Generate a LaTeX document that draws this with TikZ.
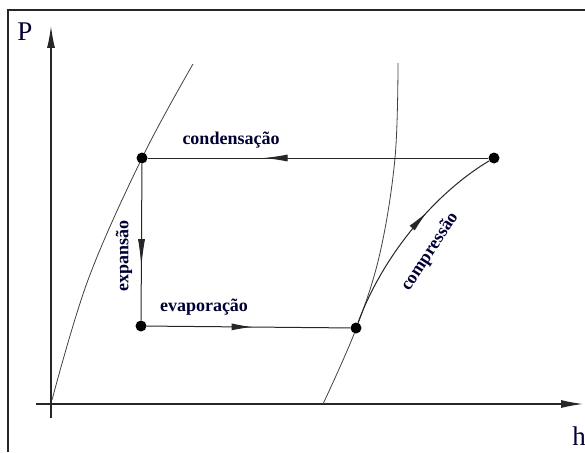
\documentclass[tikz,border=0pt]{standalone}
\usepackage{fontspec}
\setmainfont{Liberation Serif}
\usetikzlibrary{arrows.meta,decorations.markings}
\begin{document}
\begin{tikzpicture}[x=1pt,y=-1pt,
  dot/.style={circle,fill=black,inner sep=0pt,minimum size=11pt},
  lbl/.style={font=\fontsize{18}{18}\selectfont\bfseries,text=black!80!blue,inner sep=0pt},
  axislbl/.style={font=\fontsize{27}{27}\selectfont,text=black!80!blue,inner sep=0pt},
  axis/.style={line width=1.2pt,black!85,-{Latex[length=22pt,width=8pt]}},
  sat/.style={line width=0.8pt,black!75},
  flow/.style={line width=1pt,black!85},
  midarrow/.style args={#1/#2}{postaction={decorate},
    decoration={markings,mark=at position #1 with {\arrow{Latex[length=#2,width=7pt]}}}},
]
\useasboundingbox (0,0) rectangle (585,452);
% frame
\draw[line width=2pt,black!85] (8,452) -- (8,10) -- (585,10);
% axes
\coordinate (yb) at (51,418);
\coordinate (yt) at (51,26);
\coordinate (xl) at (36,404);
\coordinate (xr) at (583,404);
\draw[axis] (yb) -- (yt);
\draw[axis] (xl) -- (xr);
\node[axislbl] (P) at (25,32) {P};
\node[axislbl] (h) at (579,436) {h};
% saturation curves
\draw[sat] plot[smooth,tension=0.6] coordinates {(52,400) (88,280) (142,158) (193,64)};
\draw[sat] plot[smooth,tension=0.6] coordinates {(323,404) (356,329) (380,253) (395,158) (398,63)};
% cycle points
\node[dot] (A) at (142,158) {};
\node[dot] (B) at (494,158) {};
\node[dot] (C) at (141,326) {};
\node[dot] (D) at (356,328) {};
% cycle
\draw[flow,midarrow=0.66/24pt] (B) -- (A);
\draw[flow,midarrow=0.66/28pt] (A) -- (C);
\draw[flow,midarrow=0.52/21pt] (C) -- (D);
\draw[flow,midarrow=0.62/22pt] (D) .. controls (385,250) and (440,190) .. (B);
% labels
\node[lbl] (lc) at (231,140) {condensação};
\node[lbl] (le) at (204,307) {evaporação};
\node[lbl,rotate=90] (lx) at (124,256) {expansão};
\node[lbl,rotate=56.7] (lp) at (430,252) {compressão};
\end{tikzpicture}
\end{document}
